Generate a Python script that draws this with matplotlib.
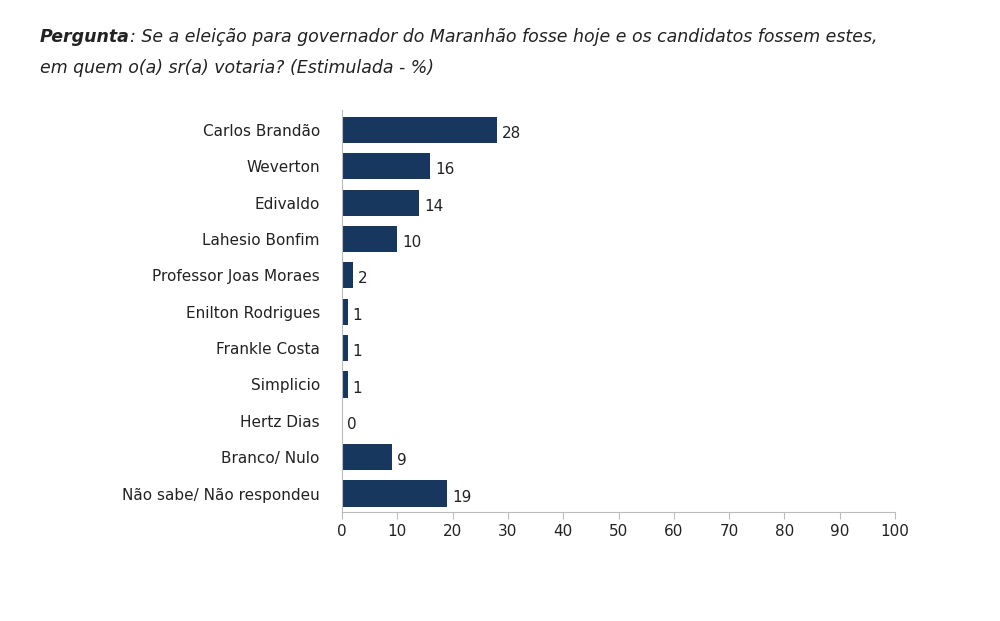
import matplotlib
matplotlib.use("Agg")
import matplotlib.pyplot as plt
from matplotlib.transforms import offset_copy

plt.rcParams["font.family"] = ["DejaVu Sans"]

candidates = ["Carlos Brandão", "Weverton", "Edivaldo", "Lahesio Bonfim",
              "Professor Joas Moraes", "Enilton Rodrigues", "Frankle Costa",
              "Simplicio", "Hertz Dias", "Branco/ Nulo", "Não sabe/ Não respondeu"]
votes = [28, 16, 14, 10, 2, 1, 1, 1, 0, 9, 19]
xticks = [0, 10, 20, 30, 40, 50, 60, 70, 80, 90, 100]

bar_color = "#17375e"

fig = plt.figure(figsize=(10, 6.21), dpi=100)
ax = fig.add_axes([0.342, 0.176, 0.553, 0.647])

y = list(range(len(candidates)))
ax.barh(y, votes, height=0.72, color=bar_color)
for yi, v in zip(y, votes):
    ax.text(v + 0.9, yi + 0.1, str(v), va="center", ha="left", fontsize=11, color="#222222")

ax.set_ylim(len(candidates) - 0.5, -0.55)
ax.set_xlim(0, 100)
ax.set_yticks(y)
ax.set_yticklabels(candidates, fontsize=11, color="#222222")
ax.set_xticks(xticks)
ax.set_xticklabels([str(t) for t in xticks], fontsize=11, color="#222222")
for s in ["top", "right"]:
    ax.spines[s].set_visible(False)
ax.spines["left"].set_color("#bbbbbb")
ax.spines["bottom"].set_color("#bbbbbb")
ax.tick_params(axis="y", length=0, pad=16)
ax.tick_params(axis="x", length=5, color="#bbbbbb", pad=4)
ax.grid(False)

t1 = fig.text(0.04, 0.932, "Pergunta", fontsize=12.5, style="italic", weight="bold", color="#222222")
fig.canvas.draw()
w = t1.get_window_extent(renderer=fig.canvas.get_renderer()).width
fig.text(0.04, 0.932, ": Se a eleição para governador do Maranhão fosse hoje e os candidatos fossem estes,",
         fontsize=12.5, style="italic", color="#222222",
         transform=offset_copy(fig.transFigure, fig=fig, x=w, y=0, units="dots"))
fig.text(0.04, 0.882, "em quem o(a) sr(a) votaria? (Estimulada - %)", fontsize=12.5, style="italic", color="#222222")

fig.savefig("out.png", dpi=100)
